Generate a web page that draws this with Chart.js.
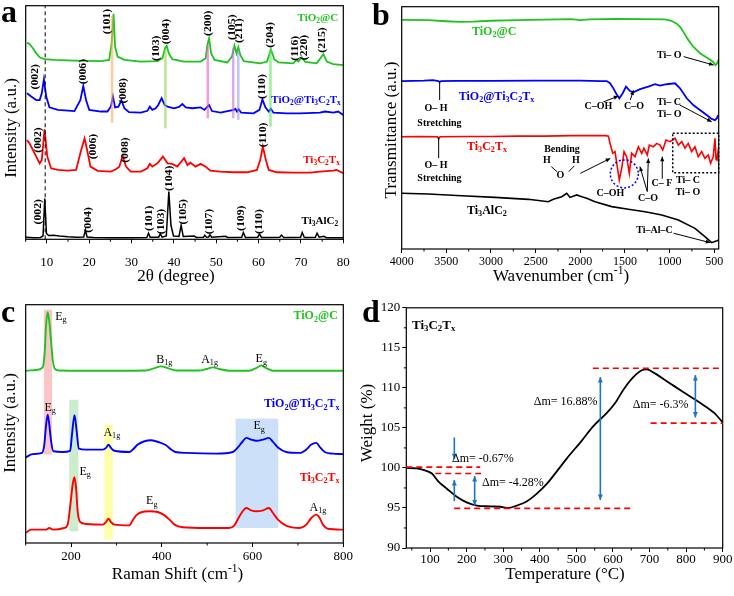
<!DOCTYPE html>
<html>
<head>
<meta charset="utf-8">
<script src="https://cdn.jsdelivr.net/npm/chart.js@4.4.1/dist/chart.umd.min.js"></script>
<style>
html, body { margin: 0; padding: 0; background: #fff; }
#wrap { position: relative; width: 734px; height: 596px; overflow: hidden; }
canvas { position: absolute; }
</style>
</head>
<body>
<div id="wrap">
  <canvas id="chartA" style="left:0;top:0" width="367" height="298"></canvas>
  <canvas id="chartC" style="left:0;top:298px" width="367" height="298"></canvas>
  <canvas id="chartB" style="left:367px;top:0" width="367" height="298"></canvas>
  <canvas id="chartD" style="left:355px;top:298px" width="379" height="298"></canvas>
</div>
<script>
// ---- (a) XRD, 2theta (deg) vs intensity (a.u., stacked) ----
const xrdAlC = [[5,0.9],[6,0.8],[7,0.7],[8.5,0.8],[9.1,1.5],[9.5,17.5],[9.9,2.5],[10.4,1.6],[11.5,1.7],[13,1.4],[15,1.1],[17,0.9],[18.7,1.0],[19.1,4.0],[19.5,1.0],[21,0.8],[25,0.7],[30,0.7],[33.6,0.8],[34,2.6],[34.4,0.9],[36.4,0.9],[36.8,2.4],[37.2,0.9],[38.2,1.4],[38.8,20.4],[39.3,6],[39.9,1.4],[41.2,1.2],[41.7,6.0],[42.2,1.2],[44.8,1.4],[45.3,0.8],[47,0.9],[47.3,1.7],[47.7,0.9],[48.2,1.0],[48.5,2.0],[48.9,0.9],[52.2,1.3],[52.7,0.8],[56,0.9],[56.4,2.9],[56.9,0.8],[59.8,0.9],[60.2,2.3],[60.7,0.8],[65,0.9],[65.4,1.8],[65.9,0.8],[69.9,0.9],[70.3,2.9],[70.8,0.8],[73.4,0.9],[73.8,2.6],[74.3,0.9],[75.4,1.3],[76,0.7],[80,0.7]];
const xrdMx = [[5.3,42.5],[5.9,41.1],[7.1,36.8],[8.3,32.5],[8.8,34.0],[9.45,47.1],[10.1,35.4],[11.0,30.4],[12.6,29.7],[14.9,29.4],[16.9,29.7],[18.1,38.2],[18.9,43.2],[19.5,38.2],[20.3,31.1],[22.0,29.3],[25.1,29.0],[26.3,30.0],[27.1,31.1],[27.9,35.7],[28.7,31.1],[29.8,29.0],[32.2,29.0],[33.75,30.4],[34.3,32.3],[34.9,31.1],[36.1,32.5],[37.4,35.4],[38.5,32.5],[39.6,32.3],[40.8,31.1],[42.4,34.7],[43.2,31.8],[43.9,32.8],[45.1,31.1],[46.3,32.3],[47.5,31.1],[48.6,29.4],[51.0,29.0],[54.1,28.7],[57.3,28.7],[59.6,29.7],[60.4,34.0],[61.0,39.7],[61.7,34.0],[62.4,29.7],[64.3,28.7],[68.2,28.5],[72.2,28.5],[74.5,29.0],[77.6,29.4],[78.4,29.7],[80,28.3]];
const xrdTiMx = [[5.3,62.5],[6.3,61.1],[7.5,59.6],[8.3,59.6],[8.8,62.5],[9.3,68.5],[9.85,61.1],[10.6,56.5],[12.6,55.4],[16.5,54.9],[17.9,59.6],[18.6,65.6],[19.25,59.6],[20.0,55.4],[22.8,54.7],[24.3,54.7],[25.1,56.8],[25.6,61.1],[26.1,56.5],[26.9,56.8],[27.6,59.6],[28.3,56.1],[29.4,54.4],[32.2,54.2],[33.75,55.0],[34.3,56.8],[34.9,55.4],[35.7,56.1],[36.3,57.5],[37.1,60.4],[37.8,57.5],[38.5,56.8],[40.0,56.1],[41.2,56.7],[42.0,57.9],[42.8,56.5],[44.3,56.1],[46.3,56.5],[47.2,55.4],[48.3,57.5],[49.0,54.9],[51.0,54.2],[54.1,55.4],[54.5,55.9],[54.9,54.7],[55.3,55.7],[55.9,54.2],[58.8,53.9],[60.2,55.4],[60.9,59.9],[61.6,56.5],[62.4,54.7],[62.9,55.9],[63.5,54.2],[66.7,53.9],[69.8,53.9],[74.5,54.2],[75.7,54.7],[77.6,54.2],[78.8,54.7],[80,53.2]];
const xrdTiC = [[5.3,84.2],[5.9,83.6],[6.7,81.8],[7.5,79.6],[8.3,77.9],[9.45,77.1],[11.8,76.8],[16.5,76.5],[22.8,76.3],[24.7,76.8],[25.3,83.9],[25.75,96.5],[26.1,82.5],[26.7,78.2],[28.3,76.8],[32.2,76.1],[36.1,76.3],[37.3,77.5],[37.9,81.8],[38.3,82.8],[38.8,79.6],[39.6,77.1],[42.4,76.1],[46.3,76.1],[47.5,77.5],[47.9,83.2],[48.3,86.0],[48.8,79.6],[49.6,76.8],[52.6,75.7],[53.7,78.2],[54.3,82.9],[54.8,79.6],[55.2,82.2],[55.7,78.8],[56.5,76.3],[60.4,75.3],[62.0,76.1],[62.9,81.3],[63.7,77.1],[64.7,75.7],[68.2,75.3],[68.9,76.8],[69.4,76.1],[70.2,77.9],[71.0,75.9],[73.7,75.3],[74.6,77.5],[75.3,79.3],[76.1,76.1],[77.6,75.0],[80,74.6]];
const aTicks = [10, 20, 30, 40, 50, 60, 70, 80];
const aMinor = [5, 15, 25, 35, 45, 55, 65, 75];

// ---- (b) FTIR, wavenumber (cm-1) vs transmittance (a.u., stacked) ----
const ftTiC = [[4000,94.6],[3700,94.5],[3500,94.0],[3350,93.7],[3200,93.8],[3000,94.2],[2700,94.5],[2400,94.7],[2100,94.9],[2000,94.5],[1900,94.8],[1600,95.0],[1300,94.9],[1050,94.8],[980,94.2],[920,93.0],[880,91.6],[847,89.7],[791,86.3],[735,83.5],[660,80.8],[585,79.0],[540,78.0],[511,77.1],[485,75.9],[470,76.5],[450,78.3]];
const ftTiMx = [[4000,69.3],[3750,69.5],[3650,69.7],[3590,69.3],[3575,68.9],[3560,69.3],[3400,69.4],[3000,69.4],[2500,69.5],[2000,69.5],[1776,69.3],[1704,69.3],[1667,68.4],[1630,66.3],[1592,63.8],[1563,62.2],[1525,64.3],[1488,67.0],[1443,65.2],[1406,64.7],[1331,66.0],[1238,67.0],[1163,68.0],[1107,67.4],[1032,68.0],[939,68.4],[883,66.3],[808,62.2],[735,59.4],[660,57.4],[585,55.3],[529,53.7],[492,53.2],[470,54.0],[455,55.3]];
const ftMx = [[4000,46.3],[3800,46.4],[3600,46.3],[3586,45.4],[3570,46.3],[3300,46.4],[3000,46.4],[2700,46.6],[2400,46.6],[2100,46.8],[1800,46.8],[1720,46.8],[1685,46.6],[1667,43.6],[1637,39.5],[1611,40.2],[1592,35.4],[1563,28.5],[1533,34.0],[1510,40.2],[1481,38.1],[1451,31.2],[1425,39.5],[1387,38.1],[1350,42.2],[1312,39.5],[1287,41.6],[1250,38.8],[1227,42.9],[1182,42.2],[1145,43.6],[1107,42.9],[1077,40.9],[1040,45.0],[995,44.3],[939,45.7],[902,42.9],[864,44.3],[828,41.6],[791,43.6],[753,40.2],[716,42.2],[679,38.1],[641,40.2],[604,37.4],[567,38.8],[540,35.4],[511,38.1],[492,45.7],[480,37.0],[470,36.7],[450,42.2]];
const ftAlC = [[4000,23.0],[3702,22.7],[3328,22.0],[2955,21.3],[2582,20.5],[2358,19.5],[2302,20.5],[2208,21.6],[2152,23.0],[2115,21.3],[2040,22.3],[1984,21.6],[1928,20.9],[1835,19.5],[1648,17.5],[1462,16.4],[1275,15.4],[1088,14.0],[902,12.0],[716,8.5],[604,5.1],[529,2.6],[470,3.4],[450,3.7]];
const bTicks = [500, 1000, 1500, 2000, 2500, 3000, 3500, 4000];
const bMinor = [750, 1250, 1750, 2250, 2750, 3250, 3750];

// ---- (c) Raman, shift (cm-1) vs intensity (a.u., stacked) ----
const ramTiC = [[100,72.3],[123,72.6],[137.5,73.7],[142,80.4],[145,91.6],[148.5,96.9],[152,93.0],[156,84.6],[159.5,76.9],[164.5,73.1],[174,72.4],[226,72.3],[300,72.3],[365,72.4],[384,73.4],[398.5,74.1],[413,73.4],[431.5,72.4],[483,72.4],[498,73.0],[512.5,73.7],[527,73.0],[549,72.3],[593,72.3],[608,73.4],[619,74.5],[630,73.4],[645,72.3],[704,72.3],[800,72.3]];
const ramTiMx = [[100,35.9],[115,37.3],[136,37.8],[141,41.3],[145,49.7],[148.5,53.8],[152,49.7],[156,42.7],[161,38.5],[181.5,38.2],[198,38.7],[202,45.5],[207.5,53.6],[212,47.6],[217,39.6],[233,39.2],[270,39.2],[277,39.9],[282.5,41.3],[288,39.9],[295.5,38.7],[328.5,38.2],[336,39.2],[347,41.3],[362,42.7],[376.5,43.1],[395,42.2],[409.5,41.0],[420.5,39.2],[430,38.2],[454,37.8],[520,37.5],[556.5,38.2],[567.5,40.1],[578.5,42.7],[586,44.1],[597,43.4],[608,42.9],[623,43.4],[636,44.1],[645,42.4],[656,40.1],[674,38.2],[704,37.8],[718.5,39.2],[729.5,41.3],[740.5,42.0],[749,40.1],[759,38.2],[777,37.5],[800,37.3]];
const ramMx = [[100,4.2],[112,5.6],[145,5.6],[152,6.3],[160,5.6],[185,6.3],[192.5,7.7],[198.5,16.1],[203.5,24.5],[207.5,27.6],[211,23.1],[214.5,13.3],[220,8.8],[233,8.0],[270,7.7],[277,8.8],[282.5,10.2],[288,8.8],[295.5,7.7],[328.5,7.4],[334.5,9.1],[343.5,11.6],[354.5,12.9],[373,13.3],[391,13.0],[406,11.6],[417,9.8],[428,7.7],[446,6.6],[498,6.3],[548.5,6.3],[559.5,7.3],[569,10.5],[578,13.3],[586,14.7],[597,13.7],[608,13.3],[623,13.7],[636,14.7],[645,12.6],[656,9.8],[674,7.3],[704,6.3],[718.5,7.7],[729.5,10.5],[740.5,11.9],[748,10.5],[755,7.7],[766,6.0],[800,5.6]];
const cTicks = [200, 400, 600, 800];
const cMinor = [100, 300, 500, 700];

// ---- (d) TGA, temperature (C) vs weight (%) ----
const tgaMx = [[35,100.0],[63,99.95],[86,99.7],[105,99.3],[123,98.3],[146,97.4],[173,96.4],[200,95.7],[228,95.3],[264,95.2],[292,95.15],[314,95.0],[337,95.3],[365,95.85],[392,96.8],[419,98.0],[447,99.6],[474,101.2],[511,103.2],[547,105.25],[584,106.9],[606,108.1],[629,109.8],[657,111.4],[679,112.2],[693,112.3],[711,111.9],[748,110.8],[793,109.45],[839,108.1],[876,106.9],[900,105.7]];
const dTicksX = [100, 200, 300, 400, 500, 600, 700, 800, 900];
const dMinorX = [50, 150, 250, 350, 450, 550, 650, 750, 850];
const dTicksY = [90, 95, 100, 105, 110, 115, 120];
const dMinorY = [92.5, 97.5, 102.5, 107.5, 112.5, 117.5];

const FAM = "'Liberation Serif','Times New Roman',Times,serif";
const GREEN = 'rgb(30,196,30)', BLUE = '#0000ff', RED = '#ff0000', ABLUE = '#1a75c9';

// "_x" / "_{..}" subscript, "^{..}" superscript
function parseRich(s) {
    const parts = [];
    let buf = '', i = 0;
    while (i < s.length) {
        const c = s[i];
        if (c === '_' || c === '^') {
            if (buf) { parts.push({ t: buf, k: '' }); buf = ''; }
            let t;
            if (s[i + 1] === '{') { const j = s.indexOf('}', i + 2); t = s.slice(i + 2, j); i = j + 1; }
            else { t = s[i + 1]; i += 2; }
            parts.push({ t: t, k: c });
        } else { buf += c; i++; }
    }
    if (buf) parts.push({ t: buf, k: '' });
    return parts;
}

function drawRich(ctx, s, x, y, o) {
    const size = o.s || 12, wt = o.b ? 'bold ' : '';
    const parts = parseRich(s);
    let w = 0;
    parts.forEach(p => {
        p.size = p.k ? size * 0.68 : size;
        ctx.font = wt + p.size + 'px ' + FAM;
        p.w = ctx.measureText(p.t).width;
        w += p.w;
    });
    ctx.save();
    ctx.translate(x, y);
    if (o.r) ctx.rotate(-Math.PI / 2);
    if (o.st) ctx.scale(o.st, 1);
    const al = o.al || 'center';
    let cx = al === 'left' ? 0 : al === 'right' ? -w : -w / 2;
    ctx.fillStyle = o.c || '#000';
    ctx.textAlign = 'left';
    ctx.textBaseline = o.bl || 'middle';
    parts.forEach(p => {
        ctx.font = wt + p.size + 'px ' + FAM;
        const dy = p.k === '_' ? size * 0.28 : p.k === '^' ? -size * 0.34 : 0;
        ctx.fillText(p.t, cx, dy);
        cx += p.w;
    });
    ctx.restore();
}

function head(ctx, x0, y0, x1, y1, size) {
    const a = Math.atan2(y1 - y0, x1 - x0);
    ctx.beginPath();
    ctx.moveTo(x1, y1);
    ctx.lineTo(x1 - size * Math.cos(a - 0.42), y1 - size * Math.sin(a - 0.42));
    ctx.lineTo(x1 - size * Math.cos(a + 0.42), y1 - size * Math.sin(a + 0.42));
    ctx.closePath();
    ctx.fill();
}

function drawBands(chart, cfg) {
    const { ctx, chartArea: ca, scales } = chart;
    ctx.save();
    ctx.beginPath();
    ctx.rect(ca.left, ca.top, ca.right - ca.left, ca.bottom - ca.top);
    ctx.clip();
    (cfg.bands || []).forEach(b => {
        const x0 = scales.x.getPixelForValue(b[0]), x1 = scales.x.getPixelForValue(b[1]);
        const y0 = scales.y.getPixelForValue(b[2]), y1 = scales.y.getPixelForValue(b[3]);
        ctx.fillStyle = b[4];
        ctx.fillRect(Math.min(x0, x1), Math.min(y0, y1), Math.abs(x1 - x0), Math.abs(y1 - y0));
    });
    ctx.restore();
}

function makeDeco(cfg) {
    return {
        id: 'deco',
        beforeDatasetsDraw(chart) { if (!cfg.bandsOnTop) drawBands(chart, cfg); },
        afterDatasetsDraw(chart) { if (cfg.bandsOnTop) drawBands(chart, cfg); },
        afterDraw(chart) {
            const { ctx, chartArea: ca, scales } = chart;
            const X = v => scales.x.getPixelForValue(v), Y = v => scales.y.getPixelForValue(v);
            ctx.save();
            // frame
            ctx.strokeStyle = '#000';
            ctx.lineWidth = 1.2;
            ctx.strokeRect(ca.left, ca.top, ca.right - ca.left, ca.bottom - ca.top);
            // minor ticks
            ctx.lineWidth = 1;
            (cfg.minorX || []).forEach(v => {
                ctx.beginPath(); ctx.moveTo(X(v), ca.bottom); ctx.lineTo(X(v), ca.bottom + 2.5); ctx.stroke();
            });
            (cfg.minorY || []).forEach(v => {
                ctx.beginPath(); ctx.moveTo(ca.left, Y(v)); ctx.lineTo(ca.left - 2.5, Y(v)); ctx.stroke();
            });
            // lines
            (cfg.lines || []).forEach(l => {
                const o = l[4] || {};
                ctx.strokeStyle = o.c || '#000';
                ctx.lineWidth = o.w || 1;
                ctx.setLineDash(o.dash || []);
                ctx.beginPath(); ctx.moveTo(X(l[0]), Y(l[1])); ctx.lineTo(X(l[2]), Y(l[3])); ctx.stroke();
            });
            ctx.setLineDash([]);
            // arrows
            (cfg.arrows || []).forEach(a => {
                const o = a[4] || {};
                const x0 = X(a[0]), y0 = Y(a[1]), x1 = X(a[2]), y1 = Y(a[3]);
                ctx.strokeStyle = ctx.fillStyle = o.c || '#000';
                ctx.lineWidth = o.w || 1;
                ctx.beginPath(); ctx.moveTo(x0, y0); ctx.lineTo(x1, y1); ctx.stroke();
                head(ctx, x0, y0, x1, y1, o.h || 5);
                if (o.dbl) head(ctx, x1, y1, x0, y0, o.h || 5);
            });
            // circles and boxes
            (cfg.circles || []).forEach(c => {
                const o = c[3] || {};
                ctx.strokeStyle = o.c || '#000';
                ctx.lineWidth = o.w || 1;
                ctx.setLineDash(o.dash || []);
                ctx.beginPath(); ctx.arc(X(c[0]), Y(c[1]), c[2], 0, Math.PI * 2); ctx.stroke();
            });
            (cfg.boxes || []).forEach(b => {
                const o = b[4] || {};
                ctx.strokeStyle = o.c || '#000';
                ctx.lineWidth = o.w || 1;
                ctx.setLineDash(o.dash || []);
                const x0 = X(b[0]), x1 = X(b[1]), y0 = Y(b[2]), y1 = Y(b[3]);
                ctx.strokeRect(Math.min(x0, x1), Math.min(y0, y1), Math.abs(x1 - x0), Math.abs(y1 - y0));
            });
            ctx.setLineDash([]);
            // texts in data coordinates
            (cfg.texts || []).forEach(t => drawRich(ctx, t[0], X(t[1]), Y(t[2]), t[3] || {}));
            // texts in canvas coordinates (titles, panel letters)
            (cfg.abs || []).forEach(t => drawRich(ctx, t[0], t[1], t[2], t[3] || {}));
            ctx.restore();
        }
    };
}

function makeChart(id, o) {
    return new Chart(document.getElementById(id), {
        type: 'line',
        data: {
            datasets: o.series.map(s => ({
                data: s.pts.map(p => ({ x: p[0], y: p[1] })),
                borderColor: s.color,
                borderWidth: s.w || 1.6,
                pointRadius: 0,
                fill: false,
                tension: o.smooth ? 0.4 : 0,
                cubicInterpolationMode: o.smooth ? 'monotone' : 'default'
            }))
        },
        options: {
            responsive: false,
            animation: false,
            events: [],
            layout: { autoPadding: false, padding: o.pad },
            plugins: { legend: { display: false }, tooltip: { enabled: false } },
            scales: {
                x: {
                    type: 'linear',
                    min: o.x[0], max: o.x[1], reverse: !!o.reverse,
                    afterBuildTicks: s => { s.ticks = o.xTicks.map(v => ({ value: v })); },
                    afterFit: s => { s.height = o.xh; },
                    grid: { display: true, drawOnChartArea: false, tickLength: 4, tickColor: '#000', tickWidth: 1 },
                    border: { display: false },
                    ticks: {
                        color: '#000', padding: o.xpad, maxRotation: 0, autoSkip: false,
                        font: { family: FAM, size: o.fs || 13 },
                        callback: v => String(v)
                    }
                },
                y: o.yTicks ? {
                    type: 'linear',
                    min: o.y[0], max: o.y[1],
                    afterBuildTicks: s => { s.ticks = o.yTicks.map(v => ({ value: v })); },
                    afterFit: s => { s.width = o.yw; },
                    grid: { display: true, drawOnChartArea: false, tickLength: 4, tickColor: '#000', tickWidth: 1 },
                    border: { display: false },
                    ticks: {
                        color: '#000', padding: 2, autoSkip: false,
                        font: { family: FAM, size: o.fs || 13 },
                        callback: v => String(v)
                    }
                } : { type: 'linear', min: o.y[0], max: o.y[1], display: false }
            }
        },
        plugins: [makeDeco(o.deco)]
    });
}

const PK = { b: 1, s: 10.5, r: 1, st: 1.12 };
const AB = { b: 1, s: 10 };
const TT = { s: 17 };
const TR = { s: 17, r: 1 };
const LET = { b: 1, s: 32, al: 'left', bl: 'alphabetic' };

// (a) XRD
makeChart('chartA', {
    series: [
        { pts: xrdAlC, color: '#000', w: 1.5 },
        { pts: xrdMx, color: RED, w: 1.8 },
        { pts: xrdTiMx, color: BLUE, w: 1.8 },
        { pts: xrdTiC, color: GREEN, w: 1.8 }
    ],
    x: [5, 80], y: [0, 100], xTicks: aTicks, xh: 58.7, xpad: 11,
    pad: { left: 25.7, right: 23.7, top: 5.7, bottom: 0 },
    deco: {
        bandsOnTop: true,
        minorX: aMinor,
        bands: [
            [25.1, 25.7, 49.9, 95.6, 'rgba(250,170,90,0.6)'],
            [37.7, 38.3, 47.5, 81.1, 'rgba(150,210,80,0.6)'],
            [47.7, 48.3, 51.8, 83.2, 'rgba(240,90,190,0.6)'],
            [53.7, 54.3, 51.8, 81.8, 'rgba(200,110,220,0.6)'],
            [54.9, 55.5, 51.1, 81.1, 'rgba(140,150,240,0.55)'],
            [62.5, 63.1, 48.2, 81.3, 'rgba(90,230,90,0.6)']
        ],
        lines: [[9.6, 0, 9.6, 100, { dash: [4, 3], w: 1 }]],
        texts: [
            ['TiO_2@C', 78.8, 94.6, { c: GREEN, b: 1, s: 11, al: 'right' }],
            ['TiO_2@Ti_3C_2T_x', 79.4, 59.6, { c: BLUE, b: 1, s: 11, al: 'right' }],
            ['Ti_3C_2T_x', 79.2, 34.0, { c: RED, b: 1, s: 11, al: 'right' }],
            ['Ti_3AlC_2', 78.8, 7.8, { b: 1, s: 11, al: 'right' }],
            ['(101)', 24.35, 93.2, PK], ['(103)', 35.9, 81.8, PK], ['(004)', 38.3, 88.9, PK],
            ['(200)', 48.2, 92.5, PK], ['(105)', 53.7, 90.8, PK], ['(211)', 55.5, 89.3, PK],
            ['(204)', 62.8, 87.5, PK], ['(116)', 68.6, 81.8, PK], ['(220)', 70.75, 82.1, PK],
            ['(215)', 75.1, 85.3, PK],
            ['(002)', 7.3, 69.6, PK], ['(006)', 18.6, 71.8, PK], ['(008)', 28.1, 63.6, PK], ['(110)', 60.8, 65.4, PK],
            ['(002)', 8.0, 42.5, PK], ['(006)', 21.05, 39.7, PK], ['(008)', 28.4, 38.2, PK], ['(110)', 61.0, 44.7, PK],
            ['(002)', 8.0, 11.8, PK], ['(004)', 19.8, 8.3, PK], ['(101)', 34.1, 9.0, PK], ['(103)', 37.0, 7.6, PK],
            ['(104)', 39.0, 26.1, PK], ['(105)', 42.2, 11.8, PK], ['(107)', 48.25, 7.6, PK], ['(109)', 55.9, 9.0, PK],
            ['(110)', 60.25, 7.6, PK]
        ],
        abs: [
            ['a', 1, 22, LET],
            ['2θ (degree)', 176, 277, TT],
            ['Intensity (a.u.)', 12, 128, TR]
        ]
    }
});

// (b) FTIR
makeChart('chartB', {
    series: [
        { pts: ftAlC, color: '#000', w: 1.6 },
        { pts: ftMx, color: RED, w: 1.6 },
        { pts: ftTiMx, color: BLUE, w: 1.8 },
        { pts: ftTiC, color: GREEN, w: 1.8 }
    ],
    x: [450, 4000], reverse: true, y: [0, 100], xTicks: bTicks, xh: 49, xpad: 2, fs: 12,
    pad: { left: 34.7, right: 15.3, top: 6.7, bottom: 0 },
    deco: {
        minorX: bMinor,
        lines: [
            [3575, 69.1, 3575, 61.5], [3586, 46.1, 3586, 37.5],
            [2325, 34.0, 2261, 31.9], [2067, 34.3, 2130, 31.9]
        ],
        arrows: [
            [842, 79.4, 506, 75.9], [1742, 60.7, 1574, 63.1], [1440, 61.5, 1405, 65.5],
            [884, 59.4, 529, 52.5], [2000, 31.2, 1664, 37.4],
            [1250, 23.7, 1332, 34.0], [1250, 23.7, 1238, 37.4],
            [1082, 29.0, 1082, 38.1], [954, 6.5, 544, 2.6]
        ],
        circles: [[1507, 31.0, 14, { c: BLUE, w: 1.5, dash: [2, 2] }]],
        boxes: [[965, 450, 47.8, 31.5, { w: 1.5, dash: [2, 2] }]],
        texts: [
            ['TiO_2@C', 3213, 89.7, { c: GREEN, b: 1, s: 12, al: 'left' }],
            ['Ti– O', 1141, 80.0, { b: 1, s: 10, al: 'left' }],
            ['TiO_2@Ti_3C_2T_x', 3362, 62.9, { c: BLUE, b: 1, s: 12, al: 'left' }],
            ['O– H', 3616, 58.1, AB], ['Stretching', 3577, 51.9, AB],
            ['C–OH', 1798, 59.0, AB], ['C–O', 1399, 59.0, AB],
            ['Ti– C', 1141, 60.5, { b: 1, s: 10, al: 'left' }],
            ['Ti– O', 1141, 55.7, { b: 1, s: 10, al: 'left' }],
            ['Ti_3C_2T_x', 3269, 42.2, { c: RED, b: 1, s: 12, al: 'left' }],
            ['O– H', 3616, 34.7, AB], ['Stretching', 3577, 29.2, AB],
            ['Bending', 2205, 40.9, AB], ['H', 2373, 36.4, AB], ['H', 2048, 36.4, AB], ['O', 2224, 30.5, AB],
            ['C–OH', 1664, 23.0, AB], ['C–O', 1242, 20.9, AB], ['C– F', 1085, 27.1, AB],
            ['Ti– C', 795, 28.5, AB], ['Ti– O', 795, 23.2, AB],
            ['Ti_3AlC_2', 3269, 15.8, { b: 1, s: 12, al: 'left' }],
            ['Ti–Al–C', 1170, 7.8, AB]
        ],
        abs: [
            ['b', 5, 25, LET],
            ['Wavenumber (cm^{-1})', 194, 277, TT],
            ['Transmittance (a.u.)', 25, 130, TR]
        ]
    }
});

// (c) Raman
makeChart('chartC', {
    series: [
        { pts: ramMx, color: RED, w: 1.9 },
        { pts: ramTiMx, color: BLUE, w: 1.9 },
        { pts: ramTiC, color: GREEN, w: 1.9 }
    ],
    smooth: true,
    x: [100, 800], y: [0, 100], xTicks: cTicks, xh: 53, xpad: 2,
    pad: { left: 25.7, right: 23.7, top: 6.7, bottom: 0 },
    deco: {
        minorX: cMinor,
        bands: [
            [140, 158, 37.1, 97.9, 'rgba(248,160,160,0.6)'],
            [196, 216, 4.9, 60.1, 'rgba(170,225,170,0.6)'],
            [273.5, 292, 1.4, 49.7, 'rgba(255,255,140,0.75)'],
            [562.5, 656.6, 6.3, 52.2, 'rgba(170,205,245,0.6)']
        ],
        texts: [
            ['E_g', 165, 95.1, { s: 12, al: 'left' }],
            ['B_{1g}', 387.5, 76.9, { s: 12, al: 'left' }],
            ['A_{1g}', 486.8, 76.9, { s: 12, al: 'left' }],
            ['E_g', 606.6, 77.2, { s: 12, al: 'left' }],
            ['TiO_2@C', 788, 95.1, { c: GREEN, b: 1, s: 12, al: 'right' }],
            ['E_g', 141.2, 56.9, { s: 12, al: 'left' }],
            ['A_{1g}', 271.3, 46.2, { s: 12, al: 'left' }],
            ['E_g', 602, 49.0, { s: 12, al: 'left' }],
            ['TiO_2@Ti_3C_2T_x', 792, 58.3, { c: BLUE, b: 1, s: 12, al: 'right' }],
            ['Ti_3C_2T_x', 792, 27.3, { c: RED, b: 1, s: 12, al: 'right' }],
            ['E_g', 218.4, 29.8, { s: 12, al: 'left' }],
            ['E_g', 365.4, 17.5, { s: 12, al: 'left' }],
            ['A_{1g}', 725.7, 14.7, { s: 12, al: 'left' }]
        ],
        abs: [
            ['c', 1, 23.5, LET],
            ['Raman Shift (cm^{-1})', 177.5, 277, TT],
            ['Intensity (a.u.)', 11, 125, TR]
        ]
    }
});

// (d) TGA
const DA = { c: ABLUE, w: 1.6, h: 6 };
const DD = { c: ABLUE, w: 1.6, h: 6, dbl: 1 };
const RD = { c: RED, w: 1.6, dash: [6, 4] };
makeChart('chartD', {
    series: [{ pts: tgaMx, color: '#000', w: 1.8 }],
    smooth: true,
    x: [35, 900], y: [90, 120], xTicks: dTicksX, yTicks: dTicksY, yw: 51.3, xh: 48, xpad: 0,
    pad: { left: 0, right: 11.3, top: 7.3, bottom: 0 },
    deco: {
        minorX: dMinorX, minorY: dMinorY,
        lines: [
            [35, 100.1, 237, 100.1, RD], [114, 99.3, 241, 99.3, RD], [166, 94.95, 648, 94.95, RD],
            [545, 112.45, 900, 112.45, RD], [703, 105.6, 900, 105.6, RD]
        ],
        arrows: [
            [166.3, 103.8, 166.3, 101.1, DA], [166.3, 95.85, 166.3, 98.5, DA],
            [221.9, 99.0, 221.9, 95.3, DD], [565.5, 111.35, 565.5, 96.0, DD],
            [825.3, 111.6, 825.3, 106.3, DD]
        ],
        texts: [
            ['Ti_3C_2T_x', 50.5, 117.8, { b: 1, s: 13, al: 'left' }],
            ['Δm= -0.67%', 159.9, 101.1, { s: 12, al: 'left' }],
            ['Δm= -4.28%', 241.9, 98.1, { s: 12, al: 'left' }],
            ['Δm= 16.88%', 383.2, 108.3, { s: 12, al: 'left' }],
            ['Δm= -6.3%', 654, 107.9, { s: 12, al: 'left' }]
        ],
        abs: [
            ['d', 7, 24, LET],
            ['Temperature (°C)', 210, 277, TT],
            ['Weight (%)', 13, 125, TR]
        ]
    }
});
</script>
</body>
</html>
